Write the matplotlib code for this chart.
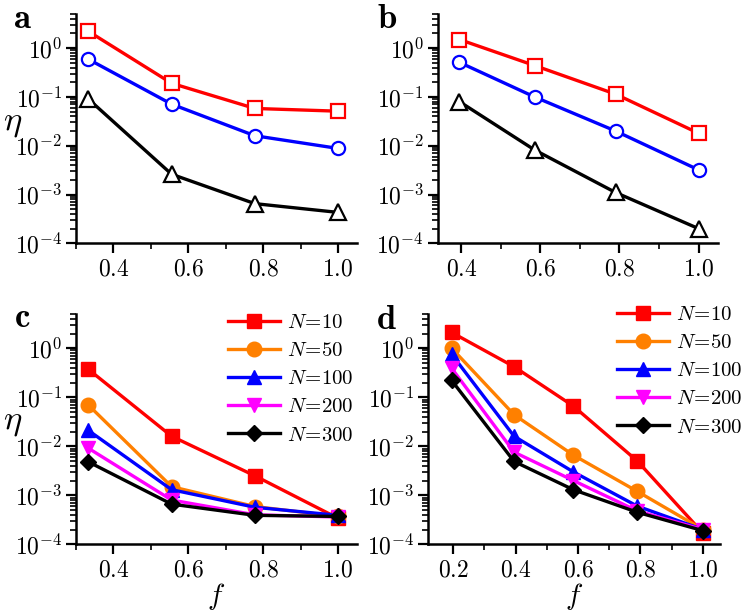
import numpy as np
import matplotlib
matplotlib.use('Agg')
import matplotlib.pyplot as plt
from matplotlib.ticker import FuncFormatter, LogLocator, MultipleLocator, NullFormatter

plt.rcParams['mathtext.fontset'] = 'cm'
plt.rcParams['font.family'] = 'serif'
plt.rcParams['font.serif'] = ['DejaVu Serif']

# panel a / b : three curves each (open markers)
f_a = [1/3, 5/9, 7/9, 1.0]
a_red = [2.2, 0.19, 0.058, 0.051]
a_blue = [0.59, 0.071, 0.016, 0.0088]
a_black = [0.09, 0.0026, 0.00065, 0.00043]

f_b = [0.395, 0.585, 0.79, 1.0]
b_red = [1.5, 0.44, 0.114, 0.018]
b_blue = [0.51, 0.10, 0.020, 0.0032]
b_black = [0.08, 0.0082, 0.0011, 0.0002]

# panel c / d : N series
N_labels = [10, 50, 100, 200, 300]
f_c = [1/3, 5/9, 7/9, 1.0]
c_vals = [
    [0.37, 0.016, 0.0025, 0.00034],
    [0.069, 0.0015, 0.00059, 0.00037],
    [0.021, 0.0013, 0.00057, 0.00039],
    [0.0091, 0.0008, 0.0004, 0.00036],
    [0.0048, 0.00066, 0.00039, 0.00037],
]
f_d = [0.195, 0.395, 0.585, 0.79, 1.0]
d_vals = [
    [2.1, 0.42, 0.066, 0.005, 0.00017],
    [1.0, 0.044, 0.0066, 0.0012, 0.0002],
    [0.75, 0.016, 0.003, 0.0006, 0.0002],
    [0.39, 0.0076, 0.002, 0.00048, 0.0002],
    [0.22, 0.0049, 0.0013, 0.00045, 0.00019],
]

colors_N = ['#ff0000', '#ff8000', '#0000ff', '#ff00ff', '#000000']
markers_N = ['s', 'o', '^', 'v', 'D']
msizes_N = [10, 10.5, 10.5, 10.5, 8.5]

W, H = 750, 611
fig = plt.figure(figsize=(7.5, 6.11), dpi=100)


def make_ax(l, r, t, b):
    return fig.add_axes([l / W, 1 - b / H, (r - l) / W, (b - t) / H])


def style(ax, xlim):
    ax.set_yscale('log')
    ax.set_ylim(1e-4, 5)
    ax.set_xlim(*xlim)
    for s in ['top', 'right']:
        ax.spines[s].set_visible(False)
    for s in ['left', 'bottom']:
        ax.spines[s].set_linewidth(1.8)
    ax.xaxis.set_major_locator(MultipleLocator(0.2))
    ax.xaxis.set_minor_locator(MultipleLocator(0.1))
    ax.xaxis.set_major_formatter(FuncFormatter(lambda v, p: r'$%.1f$' % v))
    ax.yaxis.set_major_locator(LogLocator(base=10, numticks=10))
    ax.yaxis.set_minor_locator(LogLocator(base=10, subs=np.arange(2, 10), numticks=10))
    ax.yaxis.set_major_formatter(FuncFormatter(lambda v, p: r'$10^{%d}$' % round(np.log10(v))))
    ax.yaxis.set_minor_formatter(NullFormatter())
    ax.tick_params(which='major', direction='out', length=7, width=1.6, labelsize=17, pad=3)
    ax.tick_params(which='minor', direction='out', length=4, width=1.2)


ax_a = make_ax(76, 356.7, 14, 243.3)
ax_b = make_ax(437.7, 718.3, 14, 243.3)
ax_c = make_ax(76, 356.7, 314, 544.3)
ax_d = make_ax(428.3, 720, 314, 544.3)

open_kw = dict(lw=2.4, ms=9.5, mfc='white', mew=1.6)
ax_a.plot(f_a, a_red, color='#ff0000', marker='s', **open_kw)
ax_a.plot(f_a, a_blue, color='#0000ff', marker='o', **open_kw)
ax_a.plot(f_a, a_black, color='black', marker='^', ms=11, lw=2.4, mfc='white', mew=1.6)
ax_b.plot(f_b, b_red, color='#ff0000', marker='s', **open_kw)
ax_b.plot(f_b, b_blue, color='#0000ff', marker='o', **open_kw)
ax_b.plot(f_b, b_black, color='black', marker='^', ms=11, lw=2.4, mfc='white', mew=1.6)

for i in range(len(N_labels)):
    ax_c.plot(f_c, c_vals[i], color=colors_N[i], marker=markers_N[i], lw=2.4,
              ms=msizes_N[i], label=r'$N\!=\!%d$' % N_labels[i])
    ax_d.plot(f_d, d_vals[i], color=colors_N[i], marker=markers_N[i], lw=2.4,
              ms=msizes_N[i], label=r'$N\!=\!%d$' % N_labels[i])

style(ax_a, (0.3, 1.05))
style(ax_b, (0.34, 1.05))
style(ax_c, (0.3, 1.05))
style(ax_d, (0.12, 1.055))

fig.text(13 / W, 1 - 122 / H, r'$\eta$', fontsize=25, ha='center', va='center')
fig.text(13 / W, 1 - 421 / H, r'$\eta$', fontsize=25, ha='center', va='center')
for ax in [ax_c, ax_d]:
    ax.set_xlabel(r'$f$', fontsize=21, labelpad=0)

ax_c.legend(loc='upper left', bbox_to_anchor=(228 / W, 1 - 313 / H),
            bbox_transform=fig.transFigure, frameon=False, fontsize=15,
            handlelength=2.5, handletextpad=0.35, labelspacing=0.44, borderpad=0,
            borderaxespad=0)
ax_d.legend(loc='upper left', bbox_to_anchor=(617 / W, 1 - 305 / H),
            bbox_transform=fig.transFigure, frameon=False, fontsize=15,
            handlelength=2.5, handletextpad=0.35, labelspacing=0.44, borderpad=0,
            borderaxespad=0)

fig.text(22 / W, 1 - 18 / H, r'$\mathbf{a}$', fontsize=25, ha='center', va='center')
fig.text(387 / W, 1 - 18 / H, r'$\mathbf{b}$', fontsize=25, ha='center', va='center')
fig.text(22 / W, 1 - 317 / H, r'$\mathbf{c}$', fontsize=25, ha='center', va='center')
fig.text(386 / W, 1 - 319 / H, r'$\mathbf{d}$', fontsize=25, ha='center', va='center')

fig.savefig('out.png', dpi=100)
